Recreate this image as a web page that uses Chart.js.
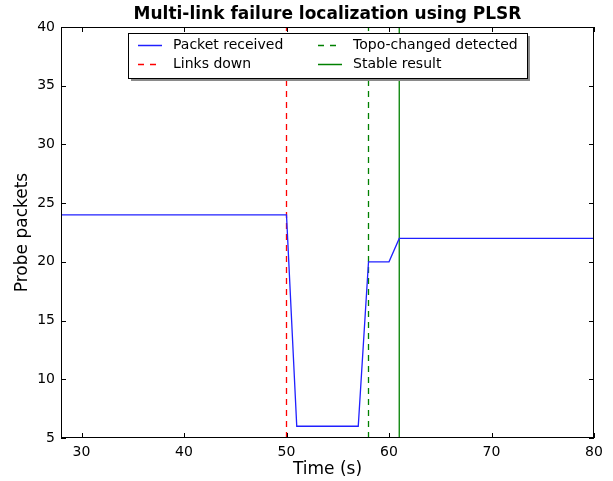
<!DOCTYPE html>
<html lang="en">
<head>
  <meta charset="UTF-8">
  <title>Multi-link failure localization using PLSR</title>
  <script src="https://cdn.jsdelivr.net/npm/chart.js"></script>
  <style>
    body { margin: 0; background: #ffffff; }
    #wrap { width: 613px; height: 481px; }
  </style>
</head>
<body>
  <div id="wrap"><canvas id="plsrChart" width="613" height="481"></canvas></div>
  <script>
    // Data
    const times = [28, 50, 51, 57, 58, 60, 61, 80];
    const packets = [24, 24, 6, 6, 20, 20, 22, 22];
    const linksDownAt = 50;
    const topoChangedAt = 58;
    const stableAt = 61;
    const xTicks = [30, 40, 50, 60, 70, 80];
    const yTicks = [5, 10, 15, 20, 25, 30, 35, 40];

    const FONT = "'DejaVu Sans', sans-serif";
    const vline = (x) => [{ x: x, y: 5 }, { x: x, y: 40 }];

    // legend box + inward ticks + title, matplotlib classic look
    const decor = {
      id: 'decor',
      afterDraw(chart) {
        const c = chart.ctx, a = chart.chartArea;
        const xs = chart.scales.x, ys = chart.scales.y;
        c.save();
        c.strokeStyle = '#000';
        c.lineWidth = 1;
        c.strokeRect(a.left + 0.5, a.top + 0.5, a.right - a.left - 1, a.bottom - a.top - 1);
        c.beginPath();
        xTicks.forEach(t => {
          const px = Math.round(xs.getPixelForValue(t)) + 0.5;
          c.moveTo(px, a.bottom); c.lineTo(px, a.bottom - 5);
          c.moveTo(px, a.top); c.lineTo(px, a.top + 5);
        });
        yTicks.forEach(t => {
          const py = Math.round(ys.getPixelForValue(t)) + 0.5;
          c.moveTo(a.left, py); c.lineTo(a.left + 5, py);
          c.moveTo(a.right, py); c.lineTo(a.right - 5, py);
        });
        c.stroke();

        // title
        c.fillStyle = '#000';
        c.font = 'bold 17px ' + FONT;
        c.textAlign = 'center';
        c.textBaseline = 'alphabetic';
        c.fillText('Multi-link failure localization using PLSR', (a.left + a.right) / 2, 19);

        // legend
        const bx = 128, by = 33, bw = 399, bh = 45;
        c.fillStyle = '#8a8a8a';
        c.fillRect(bx + 3, by + 3, bw, bh);
        c.fillStyle = '#fff';
        c.fillRect(bx, by, bw, bh);
        c.strokeStyle = '#000';
        c.strokeRect(bx + 0.5, by + 0.5, bw, bh);
        c.font = '14px ' + FONT;
        c.textAlign = 'left';
        c.textBaseline = 'middle';
        const pos = [[138, 45], [138, 64], [318, 45], [318, 64]];
        chart.data.datasets.forEach((ds, i) => {
          const [lx, ly] = pos[i];
          c.strokeStyle = ds.borderColor;
          c.lineWidth = 1.5;
          c.setLineDash(ds.borderDash ? [6, 6] : []);
          c.beginPath();
          c.moveTo(lx, ly + 0.5); c.lineTo(lx + 24, ly + 0.5);
          c.stroke();
          c.setLineDash([]);
          c.fillStyle = '#000';
          c.fillText(ds.label, lx + 35, ly);
        });
        c.restore();
      }
    };

    new Chart(document.getElementById('plsrChart').getContext('2d'), {
      type: 'line',
      data: {
        datasets: [
          { label: 'Packet received', data: times.map((t, i) => ({ x: t, y: packets[i] })),
            borderColor: '#2020ff', borderWidth: 1.3, pointRadius: 0, tension: 0 },
          { label: 'Links down', data: vline(linksDownAt),
            borderColor: '#ff0000', borderWidth: 1.3, borderDash: [6, 5], pointRadius: 0 },
          { label: 'Topo-changed detected', data: vline(topoChangedAt),
            borderColor: '#008000', borderWidth: 1.3, borderDash: [6, 5], pointRadius: 0 },
          { label: 'Stable result', data: vline(stableAt),
            borderColor: '#008000', borderWidth: 1.3, pointRadius: 0 }
        ]
      },
      options: {
        responsive: false,
        animation: false,
        layout: { padding: { top: 27, right: 19, left: 0, bottom: 0 } },
        plugins: { legend: { display: false }, title: { display: false }, tooltip: { enabled: false } },
        scales: {
          x: {
            type: 'linear', min: 28, max: 80,
            afterBuildTicks: s => { s.ticks = xTicks.map(v => ({ value: v })); },
            afterFit: s => { s.height = 43; },
            grid: { display: false, drawTicks: false },
            border: { display: false },
            ticks: { color: '#000', font: { family: FONT, size: 14 }, padding: 6, maxRotation: 0 },
            title: { display: true, text: 'Time (s)', color: '#000', font: { family: FONT, size: 17 }, padding: { top: 0, bottom: 1 } }
          },
          y: {
            type: 'linear', min: 5, max: 40,
            afterBuildTicks: s => { s.ticks = yTicks.map(v => ({ value: v })); },
            afterFit: s => { s.width = 61; },
            grid: { display: false, drawTicks: false },
            border: { display: false },
            ticks: { color: '#000', font: { family: FONT, size: 14 }, padding: 6 },
            title: { display: true, text: 'Probe packets', color: '#000', font: { family: FONT, size: 17 }, padding: { top: 12, bottom: 0 } }
          }
        }
      },
      plugins: [decor]
    });
  </script>
</body>
</html>
